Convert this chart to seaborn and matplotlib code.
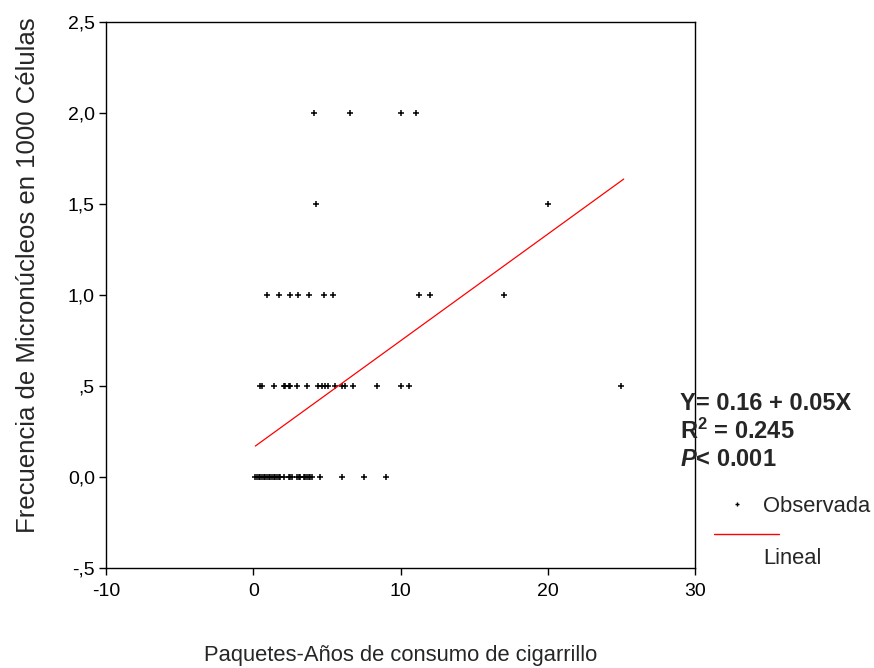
import matplotlib
matplotlib.use("Agg")
import matplotlib.pyplot as plt
import seaborn as sns
import pandas as pd
from matplotlib.lines import Line2D

# ---- data ----
x_y00 = [0.14, 0.25, 0.36, 0.48, 0.59, 0.70, 0.82, 0.93, 1.04, 1.15, 1.27, 1.38,
         1.49, 1.61, 1.72, 1.83, 2.06, 2.40, 2.51, 2.63, 2.97, 3.08, 3.19, 3.42,
         3.53, 3.65, 3.76, 3.87, 3.99, 4.55, 6.03, 7.49, 9.01]
x_y05 = [0.48, 0.59, 1.38, 2.06, 2.17, 2.40, 2.50, 2.96, 3.64, 4.43, 4.66, 4.89,
         5.10, 5.57, 6.00, 6.25, 6.80, 8.40, 10.00, 10.55, 25.00]
x_y10 = [0.93, 1.72, 2.51, 3.01, 3.76, 4.82, 5.41, 11.28, 12.00, 17.00]
x_y15 = [4.26, 20.00]
x_y20 = [4.10, 6.60, 10.05, 11.05]
levels = [0.0, 0.5, 1.0, 1.5, 2.0]

lineal_x = [0.14, 25.16]
lineal_y = [0.17, 1.637]

x_ticks = [-10, 0, 10, 20, 30]
y_ticks = [-0.5, 0.0, 0.5, 1.0, 1.5, 2.0, 2.5]
y_ticklabels = ["-,5", "0,0", ",5", "1,0", "1,5", "2,0", "2,5"]

eq_lines = ["Y= 0.16 + 0.05X", r"R$^{2}$ = 0.245", r"$\mathit{P}$< 0.001"]

xs, ys = [], []
for lv, arr in zip(levels, [x_y00, x_y05, x_y10, x_y15, x_y20]):
    xs += arr
    ys += [lv] * len(arr)
df = pd.DataFrame({"x": xs, "y": ys})
df_line = pd.DataFrame({"x": lineal_x, "y": lineal_y})

sns.set_style("white")
plt.rcParams["font.family"] = ["Liberation Sans", "DejaVu Sans"]
plt.rcParams["mathtext.fontset"] = "custom"
plt.rcParams["mathtext.rm"] = "Liberation Sans:bold"
plt.rcParams["mathtext.it"] = "Liberation Sans:bold:italic"

fig = plt.figure(figsize=(8.74, 6.68), dpi=100)
ax = fig.add_axes([106/874, 1 - 568/668, (695-106)/874, (568-22)/668])

sns.scatterplot(data=df, x="x", y="y", ax=ax, marker="+", color="black",
                s=14, linewidth=1.1, legend=False)
sns.lineplot(data=df_line, x="x", y="y", ax=ax, color="#ff0000", linewidth=0.9,
             legend=False)

ax.set_xlim(-10, 30)
ax.set_ylim(-0.5, 2.5)
ax.set_xticks(x_ticks)
ax.set_xticklabels([str(t) for t in x_ticks])
ax.set_yticks(y_ticks)
ax.set_yticklabels(y_ticklabels)
ax.tick_params(axis="both", direction="out", length=5, width=1, labelsize=14,
               colors="black", pad=3, bottom=True, left=True)
ax.tick_params(axis="x", pad=6)
for sp in ax.spines.values():
    sp.set_visible(True)
    sp.set_color("black")
    sp.set_linewidth(1.0)

ax.set_xlabel("Paquetes-Años de consumo de cigarrillo", fontsize=15.8)
ax.xaxis.set_label_coords(0.5, -(655 - 568) / 546)
ax.xaxis.label.set_va("center")
ax.set_ylabel("Frecuencia de Micronúcleos en 1000 Células", fontsize=18.5)
ax.yaxis.set_label_coords(-0.112, 0.537)

# equation text
for i, t in enumerate(eq_lines):
    fig.text(680/874, 1 - (404 + 27.5*i)/668, t, fontsize=17, fontweight="bold",
             ha="left", va="center")

# legend (SPSS style)
fig.add_artist(Line2D([737/874], [1 - 504/668], marker="+", color="black",
                      markersize=3, linewidth=0, markeredgewidth=1.0))
fig.text(763/874, 1 - 506/668, "Observada", fontsize=15.8, ha="left", va="center")
fig.add_artist(Line2D([714/874, 779/874], [1 - 534/668, 1 - 534/668],
                      color="#ff0000", linewidth=1.0))
fig.text(763/874, 1 - 558/668, "Lineal", fontsize=15.8, ha="left", va="center")

fig.savefig("out.png", dpi=100)
